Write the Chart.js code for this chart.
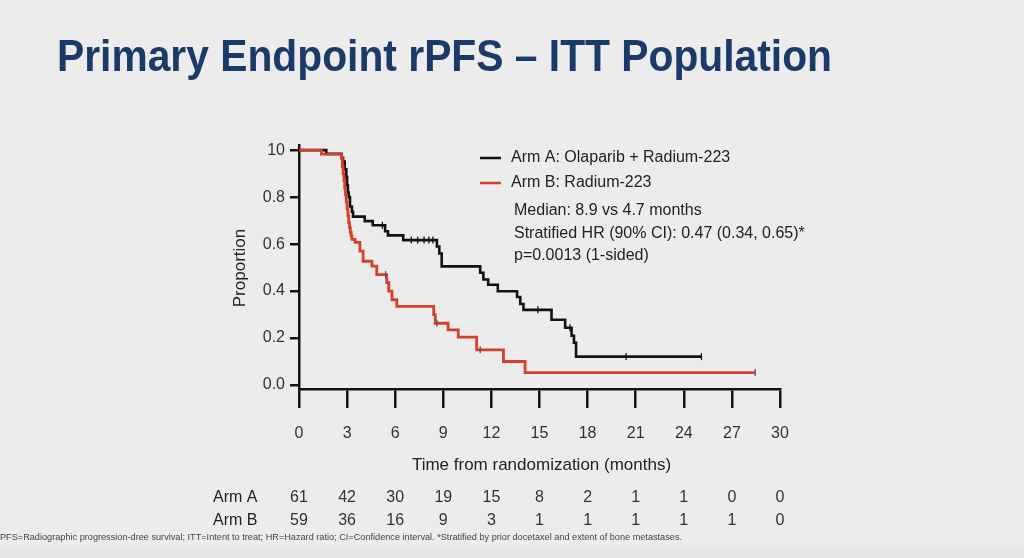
<!DOCTYPE html>
<html>
<head>
<meta charset="utf-8">
<script src="https://cdn.jsdelivr.net/npm/chart.js@4.4.1/dist/chart.umd.min.js"></script>
<style>
html,body{margin:0;padding:0;background:#ececec;}
#c{display:block;}
</style>
</head>
<body>
<canvas id="c" width="1024" height="558"></canvas>
<script>
// ---- data ----
const titleText = 'Primary Endpoint rPFS \u2013 ITT Population';
const xTicks = [0,3,6,9,12,15,18,21,24,27,30];
const yTicks = [0,0.2,0.4,0.6,0.8,1.0];
const yTickLabels = ['0.0','0.2','0.4','0.6','0.8','10'];
const xTitle = 'Time from randomization (months)';
const yTitle = 'Proportion';
const armALabel = 'Arm A: Olaparib + Radium-223';
const armBLabel = 'Arm B: Radium-223';
const statsLines = ['Median: 8.9 vs 4.7 months','Stratified HR (90% CI): 0.47 (0.34, 0.65)*','p=0.0013 (1-sided)'];

const armATime = [0,1.7,2.65,2.75,2.85,2.95,3.0,3.05,3.1,3.18,3.3,3.37,4.1,4.6,5.37,5.55,6.5,8.6,8.75,8.9,11.3,11.5,11.8,12.4,13.6,13.8,14.0,15.75,16.6,17.0,17.15,17.28,25.1];
const armASurv = [1,0.984,0.967,0.951,0.918,0.885,0.85,0.82,0.80,0.76,0.738,0.717,0.698,0.68,0.655,0.637,0.617,0.59,0.56,0.505,0.478,0.449,0.427,0.399,0.375,0.345,0.32,0.278,0.244,0.21,0.18,0.121,0.121];
const armBTime = [0,1.4,2.65,2.7,2.75,2.8,2.85,2.9,2.95,3.0,3.05,3.1,3.15,3.2,3.25,3.3,3.5,3.8,4.0,4.55,4.85,5.47,5.6,5.8,6.1,8.4,8.5,9.3,9.93,11.08,12.75,14.1,28.45];
const armBSurv = [1,0.983,0.966,0.93,0.90,0.87,0.84,0.81,0.78,0.75,0.72,0.69,0.67,0.65,0.635,0.62,0.607,0.57,0.527,0.506,0.47,0.436,0.40,0.363,0.335,0.30,0.263,0.235,0.204,0.15,0.10,0.053,0.053];

const armACensorTime = [5.2,7.0,7.4,7.8,8.1,8.35,14.9,16.9,20.4,25.1];
const armACensorSurv = [0.68,0.617,0.617,0.617,0.617,0.617,0.32,0.244,0.121,0.121];
const armBCensorTime = [5.4,8.6,11.3,28.45];
const armBCensorSurv = [0.47,0.263,0.15,0.053];

const riskLabels = ['Arm A','Arm B'];
const riskTimes = [0,3,6,9,12,15,18,21,24,27,30];
const riskA = [61,42,30,19,15,8,2,1,1,0,0];
const riskB = [59,36,16,9,3,1,1,1,1,1,0];

const footnote = 'PFS=Radiographic progression-dree survival; ITT=Intent to treat; HR=Hazard ratio; CI=Confidence interval. *Stratified by prior docetaxel and extent of bone metastases.';

// ---- styles ----
const BLACK = '#121212';
const RED = '#d6402b';
const NAVY = '#1c3a68';
const FONT = '"Liberation Sans", Arial, Helvetica, sans-serif';

const pts = (t, s) => t.map((v, i) => ({x: v, y: s[i]}));

const decor = {
  id: 'decor',
  beforeDraw(chart) {
    const ctx = chart.ctx;
    ctx.save();
    ctx.fillStyle = '#ececec';
    ctx.fillRect(0, 0, chart.width, chart.height);
    ctx.fillStyle = '#e6e6e6';
    ctx.fillRect(0, 548, chart.width, 10);
    ctx.restore();
  },
  afterDraw(chart) {
    const ctx = chart.ctx;
    const xs = chart.scales.x;
    ctx.save();
    // title
    ctx.fillStyle = NAVY;
    ctx.font = 'bold 44px ' + FONT;
    ctx.textBaseline = 'alphabetic';
    ctx.textAlign = 'left';
    let w = ctx.measureText(titleText).width;
    ctx.save();
    ctx.translate(57, 71);
    ctx.scale(775 / w, 1);
    ctx.fillText(titleText, 0, 0);
    ctx.restore();

    // legend
    const ds = chart.data.datasets;
    ctx.font = '16px ' + FONT;
    ctx.textBaseline = 'middle';
    [[0, 158], [1, 183]].forEach(([i, y]) => {
      ctx.strokeStyle = ds[i].borderColor;
      ctx.lineWidth = 2.5;
      ctx.beginPath();
      ctx.moveTo(480, y);
      ctx.lineTo(501, y);
      ctx.stroke();
      ctx.fillStyle = '#222';
      ctx.fillText(ds[i].label, 511, y);
    });
    statsLines.forEach((s, i) => {
      ctx.fillText(s, 514, 211 + i * 22.5);
    });

    // axis titles
    ctx.fillStyle = '#222';
    ctx.font = '17px ' + FONT;
    ctx.textAlign = 'center';
    ctx.fillText(xTitle, (xs.getPixelForValue(0) + xs.getPixelForValue(30)) / 2 + 2, 465);
    ctx.save();
    ctx.translate(240, 268);
    ctx.rotate(-Math.PI / 2);
    ctx.fillText(yTitle, 0, 0);
    ctx.restore();

    // risk table
    ctx.font = '16px ' + FONT;
    ctx.fillStyle = '#222';
    ctx.textAlign = 'left';
    ctx.fillText(riskLabels[0], 213, 498);
    ctx.fillText(riskLabels[1], 213, 521);
    ctx.textAlign = 'center';
    ctx.fillStyle = '#333';
    riskTimes.forEach((t, i) => {
      const px = xs.getPixelForValue(t);
      ctx.fillText(String(riskA[i]), px, 498);
      ctx.fillText(String(riskB[i]), px, 521);
    });

    // footnote
    ctx.font = '9px ' + FONT;
    ctx.fillStyle = '#444';
    ctx.textAlign = 'left';
    w = ctx.measureText(footnote).width;
    ctx.save();
    ctx.translate(0, 538);
    ctx.scale(682 / w, 1);
    ctx.fillText(footnote, 0, 0);
    ctx.restore();
    ctx.restore();
  }
};

new Chart(document.getElementById('c'), {
  type: 'line',
  data: {
    datasets: [
      {label: armALabel, data: pts(armATime, armASurv), borderColor: BLACK, borderWidth: 2.6, stepped: 'before', pointRadius: 0, fill: false, order: 2},
      {label: armBLabel, data: pts(armBTime, armBSurv), borderColor: RED, borderWidth: 2.8, stepped: 'before', pointRadius: 0, fill: false, order: 1},
      {label: 'Arm A censored', data: pts(armACensorTime, armACensorSurv), showLine: false, pointStyle: 'line', rotation: 90, pointRadius: 3.5, borderColor: BLACK, borderWidth: 1.3, order: 0},
      {label: 'Arm B censored', data: pts(armBCensorTime, armBCensorSurv), showLine: false, pointStyle: 'line', rotation: 90, pointRadius: 3.5, borderColor: '#555', borderWidth: 1.3, order: 0}
    ]
  },
  options: {
    responsive: false,
    animation: false,
    layout: {padding: {left: 220, right: 244, top: 145, bottom: 0}},
    plugins: {legend: {display: false}, title: {display: false}, tooltip: {enabled: false}},
    elements: {line: {tension: 0}},
    scales: {
      x: {
        type: 'linear', min: 0, max: 30,
        afterBuildTicks: (s) => { s.ticks = xTicks.map(v => ({value: v})); },
        afterFit: (s) => { s.height = 169; },
        grid: {drawOnChartArea: false, color: BLACK, lineWidth: 2.5, tickLength: 19, tickWidth: 2.5},
        border: {color: BLACK, width: 2.5},
        ticks: {color: '#333', font: {family: FONT, size: 16}, padding: 16, maxRotation: 0, autoSkip: false}
      },
      y: {
        type: 'linear', min: -0.017, max: 1.022,
        afterBuildTicks: (s) => { s.ticks = yTicks.map(v => ({value: v})); },
        afterFit: (s) => { s.width = 79; },
        grid: {drawOnChartArea: false, color: BLACK, lineWidth: 2.5, tickLength: 9, tickWidth: 2.5},
        border: {color: BLACK, width: 2.5},
        ticks: {color: '#333', font: {family: FONT, size: 16}, padding: 5,
          callback: (v) => { const i = yTicks.findIndex(t => Math.abs(t - v) < 1e-6); return i >= 0 ? yTickLabels[i] : ''; }}
      }
    }
  },
  plugins: [decor]
});
</script>
</body>
</html>
